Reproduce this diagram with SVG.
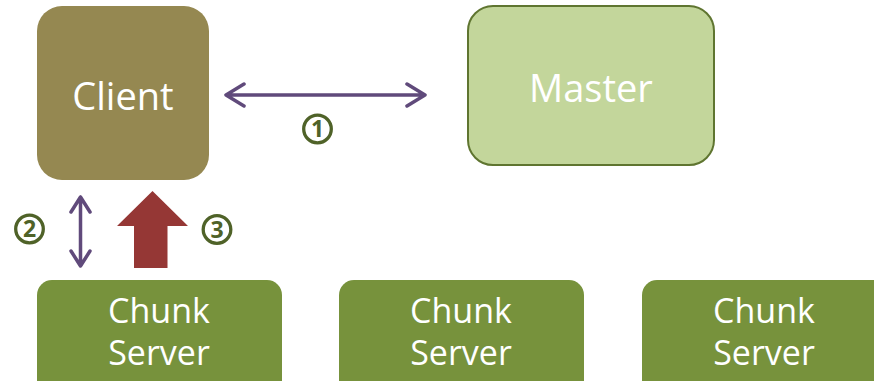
<svg xmlns="http://www.w3.org/2000/svg" width="874" height="381" viewBox="0 0 874 381">
  <defs>
    <style>
      .label { font-family: "Open Sans", "Noto Sans", "DejaVu Sans", sans-serif; fill: #ffffff; text-anchor: middle; }
      .big { font-size: 38px; }
      .small { font-size: 34px; }
      .chunk { fill: #77923c; }
      .link { stroke: #604a7b; stroke-width: 3.5; fill: none; stroke-linecap: round; stroke-linejoin: round; }
      .step circle { fill: none; stroke: #4f6228; stroke-width: 3.3; }
      .step text { font-family: "Open Sans", "Noto Sans", "DejaVu Sans", sans-serif; font-size: 23px; font-weight: bold; fill: #4f6228; text-anchor: middle; }
    </style>
  </defs>
  <rect width="874" height="381" fill="#ffffff"/>

  <g id="client">
    <rect x="37" y="6" width="172" height="174" rx="25" ry="25" fill="#958851"/>
    <text class="label big" x="123" y="110">Client</text>
  </g>

  <g id="master">
    <rect x="468" y="6" width="246" height="159" rx="25" ry="25" fill="#c3d69b" stroke="#5f7530" stroke-width="2"/>
    <text class="label big" x="591" y="102">Master</text>
  </g>

  <g id="chunk-server-1">
    <rect class="chunk" x="37" y="280" width="245" height="115" rx="15" ry="15"/>
    <text class="label small" x="159" y="323">Chunk</text>
    <text class="label small" x="159" y="365">Server</text>
  </g>

  <g id="chunk-server-2">
    <rect class="chunk" x="339" y="280" width="245" height="115" rx="15" ry="15"/>
    <text class="label small" x="461" y="323">Chunk</text>
    <text class="label small" x="461" y="365">Server</text>
  </g>

  <g id="chunk-server-3">
    <rect class="chunk" x="642" y="280" width="245" height="115" rx="15" ry="15"/>
    <text class="label small" x="764" y="323">Chunk</text>
    <text class="label small" x="764" y="365">Server</text>
  </g>

  <g id="connectors">
    <!-- client <-> master -->
    <path class="link" d="M226 95 H425 M244 84 L226 95 L244 106 M407 84 L425 95 L407 106"/>
    <!-- client <-> chunk server -->
    <path class="link" d="M80.5 197 V266 M71 212 L80.5 197 L90 212 M71 251 L80.5 266 L90 251"/>
    <!-- data flow from chunk server up to client -->
    <polygon points="152.5,191 188,226 167.5,226 167.5,268 134,268 134,226 117,226" fill="#953735"/>
  </g>

  <g id="steps" class="step">
    <g id="step-1"><circle cx="317.5" cy="129" r="13.8"/><text x="317.5" y="137.2">1</text></g>
    <g id="step-2"><circle cx="29.5" cy="229" r="13.8"/><text x="29.5" y="237.2">2</text></g>
    <g id="step-3"><circle cx="217" cy="229.5" r="13.8"/><text x="217" y="237.7">3</text></g>
  </g>
</svg>
